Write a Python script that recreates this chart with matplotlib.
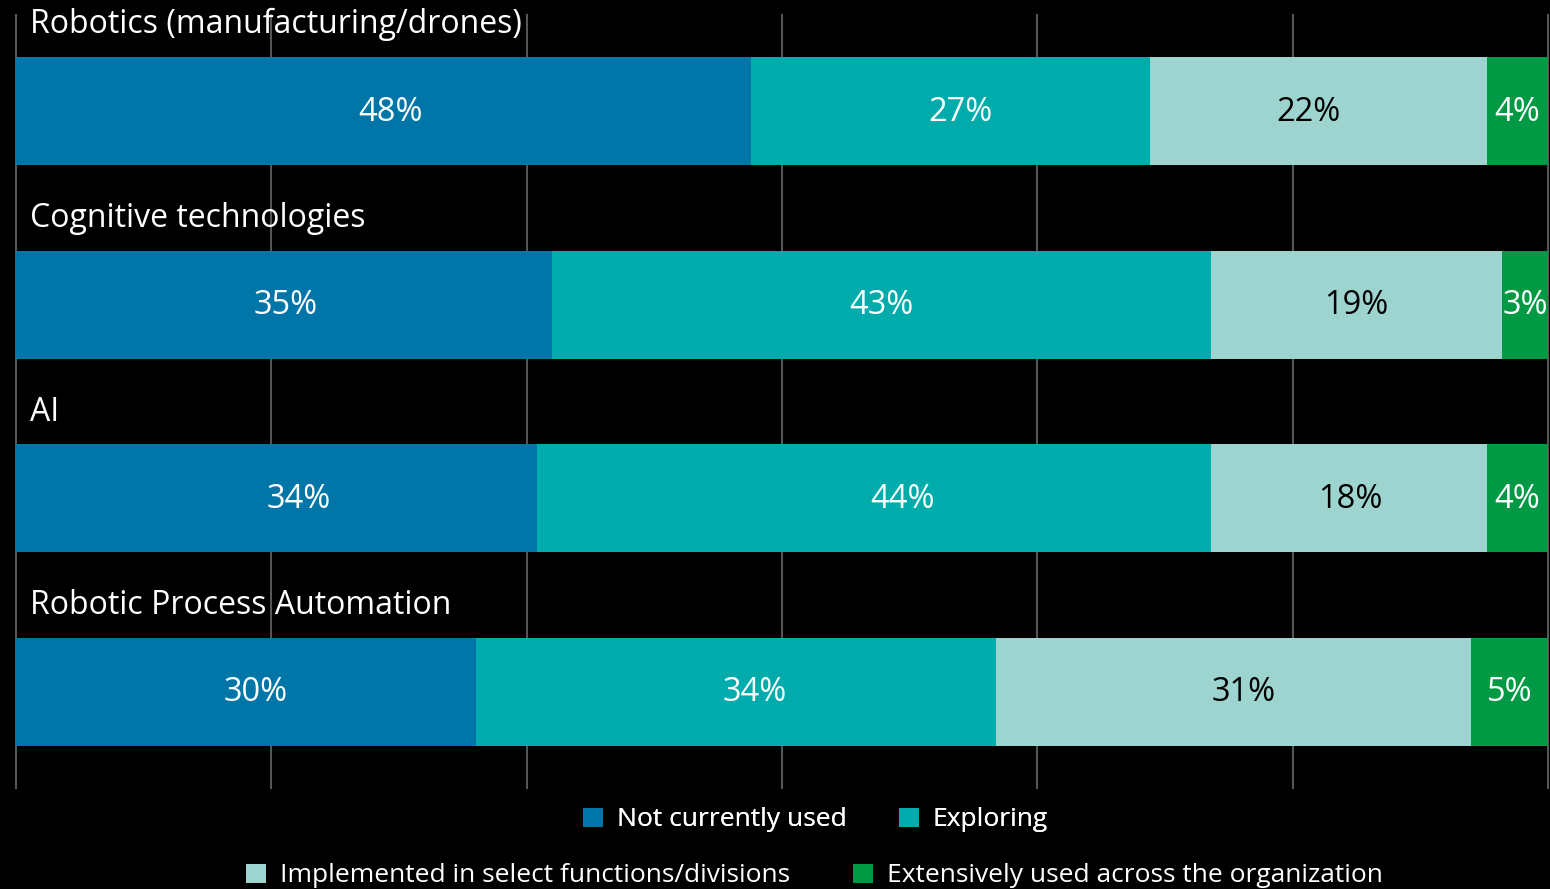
import matplotlib
matplotlib.use("Agg")
import matplotlib.pyplot as plt
from matplotlib.patches import Patch
import numpy as np

plt.rcParams['font.family'] = ['Open Sans', 'DejaVu Sans']

categories = ["Robotics (manufacturing/drones)", "Cognitive technologies", "AI",
              "Robotic Process Automation"]
series_names = ["Not currently used", "Exploring",
                "Implemented in select functions/divisions",
                "Extensively used across the organization"]
not_used = [48, 35, 34, 30]
exploring = [26, 43, 44, 34]
implemented = [22, 19, 18, 31]
extensive = [4, 3, 4, 5]
labels_not_used = ["48%", "35%", "34%", "30%"]
labels_exploring = ["27%", "43%", "44%", "34%"]
labels_implemented = ["22%", "19%", "18%", "31%"]
labels_extensive = ["4%", "3%", "4%", "5%"]

# label nudges from segment centre (in axis % units), as placed in the original
dx_not_used = [0.46, 0.07, 1.44, 0.65]
dx_exploring = [0.62, 0.0, 1.86, 1.2]
dx_implemented = [-0.62, 0.0, 0.1, 0.65]
dx_extensive = [0.0, 0.0, 0.0, 0.0]

colors = ["#0076A8", "#00ABAB", "#9DD4CF", "#009A44"]
text_colors = ["white", "white", "black", "white"]

W, H = 1550, 889
fig = plt.figure(figsize=(W / 100, H / 100), dpi=100, facecolor="black")
ax = fig.add_axes([16 / W, 1 - 788 / H, 1532 / W, (788 - 15) / H])
ax.set_facecolor("black")

series = [not_used, exploring, implemented, extensive]
labels = [labels_not_used, labels_exploring, labels_implemented, labels_extensive]
nudges = [dx_not_used, dx_exploring, dx_implemented, dx_extensive]
y = np.arange(len(categories))
left = np.zeros(len(categories))
for vals, labs, dxs, c, tc in zip(series, labels, nudges, colors, text_colors):
    vals = np.array(vals, dtype=float)
    ax.barh(y, vals, left=left, height=0.558, color=c, zorder=2)
    for yi, (l, v, lab, dx) in enumerate(zip(left, vals, labs, dxs)):
        ax.text(l + v / 2 + dx, yi + 0.005, lab, ha="center", va="center",
                color=tc, fontsize=23.5, zorder=3)
    left += vals

for yi, cat in enumerate(categories):
    ax.text(0.9, yi - 0.445, cat, ha="left", va="center", color="white",
            fontsize=23, zorder=3)

ax.set_xlim(0, 100)
ax.set_ylim(len(categories) - 0.504, -0.496)
ax.set_xticks(np.linspace(0, 100, 7))
ax.set_yticks([])
ax.tick_params(axis="x", length=0, labelbottom=False)
ax.grid(axis="x", color="#53565A", linewidth=1.5, zorder=1)
for gl in ax.get_xgridlines():
    gl.set_clip_on(False)
for s in ax.spines.values():
    s.set_visible(False)
ax.set_axisbelow(True)

handles = [Patch(facecolor=c, edgecolor="none") for c in colors]
leg1 = fig.legend(handles[:2], series_names[:2], loc="center",
                  bbox_to_anchor=(815.5 / W, 1 - 820 / H), ncol=2, frameon=False,
                  fontsize=19, labelcolor="white", handlelength=0.76,
                  handleheight=0.76, handletextpad=0.53, columnspacing=1.97)
leg2 = fig.legend(handles[2:], series_names[2:], loc="center",
                  bbox_to_anchor=(814.5 / W, 1 - 876 / H), ncol=2, frameon=False,
                  fontsize=19, labelcolor="white", handlelength=0.76,
                  handleheight=0.76, handletextpad=0.53, columnspacing=2.4)
fig.add_artist(leg1)

fig.savefig("out.png", dpi=100, facecolor="black")
